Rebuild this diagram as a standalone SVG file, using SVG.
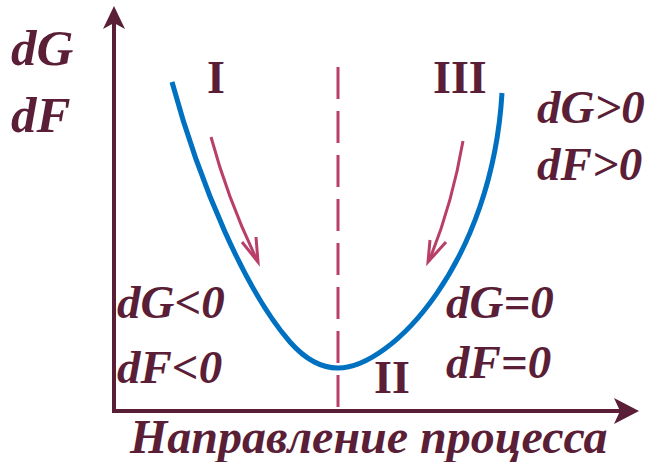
<svg xmlns="http://www.w3.org/2000/svg" width="649" height="462" viewBox="0 0 649 462">
<style>
.t{font-family:"Liberation Serif","Times New Roman",serif;font-weight:bold;fill:#5a1e36}
.it{font-style:italic}
.ax{stroke:#5a1e36;stroke-width:4;fill:none}
.ah{fill:#5a1e36}
.pk{stroke:#b83f6a;stroke-width:3;fill:none}
</style>
<rect width="649" height="462" fill="#fff"/>
<g id="axes">
<line class="ax" x1="114" y1="413" x2="114" y2="20"/>
<path class="ah" d="M114,6 L103,29 L114,23 L125,29 Z"/>
<line class="ax" x1="112" y1="411" x2="628" y2="411"/>
<path class="ah" d="M639,411 L614,398 L620,411 L614,424 Z"/>
</g>
<g id="divider">
<line class="pk" x1="338" y1="67" x2="338" y2="409" stroke-dasharray="32 12"/>
</g>
<g id="curve">
<path d="M172,82 C200,185 245,290 290,342 C305,359 322,368 338,368 C392,368 492,262 502,93" fill="none" stroke="#0070c0" stroke-width="5"/>
</g>
<g id="connectors">
<path class="pk" d="M211,137 Q228,200 257,260"/>
<path class="pk" d="M242,242 L258,262 L256,237"/>
<path class="pk" d="M463,141 Q452,205 429,261"/>
<path class="pk" d="M430,240 L428,262 L446,242"/>
</g>
<g id="labels">
<text class="t it" x="11" y="65" font-size="51">dG</text>
<text class="t it" x="11" y="132" font-size="51">dF</text>
<text class="t" x="207" y="93" font-size="46">I</text>
<text class="t" x="433" y="93" font-size="46">III</text>
<text class="t" x="374" y="393" font-size="46">II</text>
<text class="t it" x="537" y="123" font-size="47">dG&gt;0</text>
<text class="t it" x="537" y="180" font-size="47">dF&gt;0</text>
<text class="t it" x="117" y="318" font-size="47">dG&lt;0</text>
<text class="t it" x="117" y="383" font-size="47">dF&lt;0</text>
<text class="t it" x="446" y="318" font-size="47">dG=0</text>
<text class="t it" x="446" y="378" font-size="47">dF=0</text>
<text class="t it" x="130" y="453" font-size="48">Направление процесса</text>
</g>
</svg>
